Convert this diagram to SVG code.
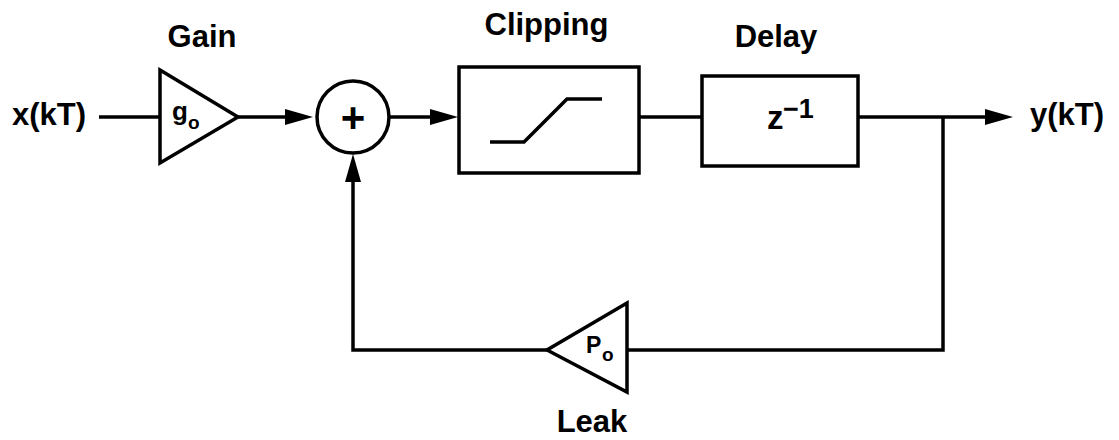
<svg xmlns="http://www.w3.org/2000/svg" width="1119" height="440" viewBox="0 0 1119 440">
<defs>
<style>
.s{fill:none;stroke:#000;stroke-width:3.5}
.t{font-family:"Liberation Sans",Arial,sans-serif;font-weight:bold;fill:#000}
.l{font-size:31px}
</style>
<marker id="ah" markerUnits="userSpaceOnUse" markerWidth="28" markerHeight="16" refX="15" refY="8" orient="auto" overflow="visible">
<path d="M0,0 L28,8 L0,16 Z" fill="#000"/>
</marker>
</defs>
<rect width="1119" height="440" fill="#fff"/>
<g id="connectors">
<line class="s" x1="99" y1="117" x2="160" y2="117"/>
<line class="s" x1="238" y1="117" x2="300" y2="117" marker-end="url(#ah)"/>
<line class="s" x1="389" y1="117" x2="445" y2="117" marker-end="url(#ah)"/>
<line class="s" x1="639" y1="117" x2="702" y2="117"/>
<line class="s" x1="858" y1="117" x2="1000" y2="117" marker-end="url(#ah)"/>
<polyline class="s" points="943,117 943,350 627,350"/>
<polyline class="s" points="547,350 353,350 353,167" marker-end="url(#ah)"/>
</g>
<g id="gain">
<polygon class="s" points="160,70 238,117 160,163"/>
<text class="t" x="172" y="120" font-size="26">g</text>
<text class="t" x="188" y="129" font-size="19">o</text>
<text class="t l" x="202" y="47" text-anchor="middle">Gain</text>
</g>
<g id="sum">
<circle class="s" cx="353" cy="117" r="36"/>
<text class="t" x="353" y="132" font-size="42" text-anchor="middle">+</text>
</g>
<g id="clipping">
<rect class="s" x="459" y="67" width="180" height="106"/>
<polyline class="s" points="490,142 524,142 567,99 602,99"/>
<text class="t l" x="546.5" y="35" text-anchor="middle">Clipping</text>
</g>
<g id="delay">
<rect class="s" x="702" y="76" width="156" height="90"/>
<text class="t" x="767" y="129" font-size="33">z</text>
<text class="t" x="783" y="118" font-size="27">−1</text>
<text class="t l" x="776" y="47" text-anchor="middle">Delay</text>
</g>
<g id="leak">
<polygon class="s" points="627,303 547,350 627,392"/>
<text class="t" x="586" y="353" font-size="23">P</text>
<text class="t" x="602" y="361" font-size="19">o</text>
<text class="t l" x="592" y="432" text-anchor="middle">Leak</text>
</g>
<g id="input">
<text class="t l" x="12" y="125">x(kT)</text>
</g>
<g id="output">
<text class="t l" x="1030" y="125">y(kT)</text>
</g>
</svg>
